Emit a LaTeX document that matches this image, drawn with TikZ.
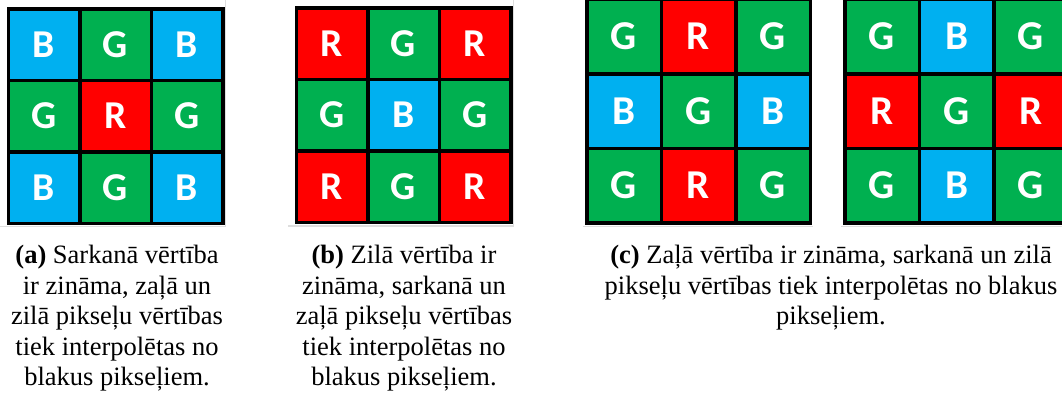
\documentclass[tikz,border=0pt]{standalone}
\usepackage{fontspec}
\setmainfont{Liberation Serif}
\newfontfamily\pixfont{Carlito}
\usepackage{tikz}
\usetikzlibrary{positioning}
\definecolor{pxred}{HTML}{FF0000}
\definecolor{pxgreen}{HTML}{00B050}
\definecolor{pxblue}{HTML}{00B0F0}
\tikzset{
  pix/.style={draw=black, line width=3.5pt, minimum size=71.5pt, inner sep=0pt,
    text=white, font=\pixfont\bfseries\fontsize{39.5}{39.5}\selectfont},
  bigpix/.style={pix, minimum size=74.5pt,
    font=\pixfont\bfseries\fontsize{41}{41}\selectfont},
  rpix/.style={fill=pxred},
  gpix/.style={fill=pxgreen},
  bpix/.style={fill=pxblue},
  caption/.style={align=center, anchor=north, inner sep=0pt,
    font=\fontsize{26.5}{30.5}\selectfont},
  rim/.style={draw=black!13, line width=1.5pt}
}

\begin{document}
\begin{tikzpicture}[x=1pt,y=-1pt]
\useasboundingbox (0,0) rectangle (1062,394);
\clip (0,0) rectangle (1062,394);
\fill[white] (0,0) rectangle (1062,394);
% image rims
\draw[rim] (0,226.5) -- (225.5,226.5) -- (225.5,0);
\draw[rim] (288,226) -- (513.5,226) -- (513.5,0);
\draw[rim] (583,226.5) -- (813,226.5);
\draw[rim] (841,226.5) -- (1062,226.5);
% (a) red known
\node[pix,bpix] (a11) at (44,44.5) {B};
\node[pix,gpix] (a12) at (115.5,44.5) {G};
\node[pix,bpix] (a13) at (187,44.5) {B};
\node[pix,gpix] (a21) at (44,116) {G};
\node[pix,rpix] (a22) at (115.5,116) {R};
\node[pix,gpix] (a23) at (187,116) {G};
\node[pix,bpix] (a31) at (44,187.5) {B};
\node[pix,gpix] (a32) at (115.5,187.5) {G};
\node[pix,bpix] (a33) at (187,187.5) {B};
% (b) blue known
\node[pix,rpix] (b11) at (332,43.5) {R};
\node[pix,gpix] (b12) at (403.5,43.5) {G};
\node[pix,rpix] (b13) at (475,43.5) {R};
\node[pix,gpix] (b21) at (332,115) {G};
\node[pix,bpix] (b22) at (403.5,115) {B};
\node[pix,gpix] (b23) at (475,115) {G};
\node[pix,rpix] (b31) at (332,186.5) {R};
\node[pix,gpix] (b32) at (403.5,186.5) {G};
\node[pix,rpix] (b33) at (475,186.5) {R};
% (c) green known, two cases
\node[bigpix,gpix] (c11) at (624,36.5) {G};
\node[bigpix,rpix] (c12) at (698.5,36.5) {R};
\node[bigpix,gpix] (c13) at (773,36.5) {G};
\node[bigpix,bpix] (c21) at (624,111) {B};
\node[bigpix,gpix] (c22) at (698.5,111) {G};
\node[bigpix,bpix] (c23) at (773,111) {B};
\node[bigpix,gpix] (c31) at (624,185.5) {G};
\node[bigpix,rpix] (c32) at (698.5,185.5) {R};
\node[bigpix,gpix] (c33) at (773,185.5) {G};
\node[bigpix,gpix] (d11) at (882,36.5) {G};
\node[bigpix,bpix] (d12) at (956.5,36.5) {B};
\node[bigpix,gpix] (d13) at (1031,36.5) {G};
\node[bigpix,rpix] (d21) at (882,111) {R};
\node[bigpix,gpix] (d22) at (956.5,111) {G};
\node[bigpix,rpix] (d23) at (1031,111) {R};
\node[bigpix,gpix] (d31) at (882,185.5) {G};
\node[bigpix,bpix] (d32) at (956.5,185.5) {B};
\node[bigpix,gpix] (d33) at (1031,185.5) {G};
% captions
\node[caption] (capa) at (117,245) {\textbf{(a)} Sarkanā vērtība\\ir zināma, zaļā un\\zilā pikseļu vērtības\\tiek interpolētas no\\blakus pikseļiem.};
\node[caption] (capb) at (404,245) {\textbf{(b)} Zilā vērtība ir\\zināma, sarkanā un\\zaļā pikseļu vērtības\\tiek interpolētas no\\blakus pikseļiem.};
\node[caption] (capc) at (831,245) {\textbf{(c)} Zaļā vērtība ir zināma, sarkanā un zilā\\pikseļu vērtības tiek interpolētas no blakus\\pikseļiem.};
\end{tikzpicture}
\end{document}
